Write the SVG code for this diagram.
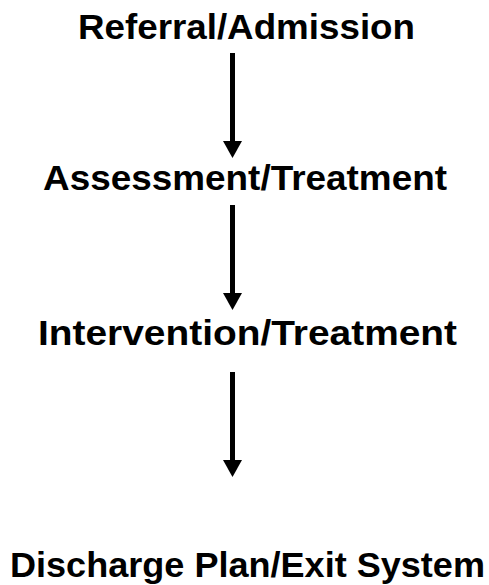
<svg xmlns="http://www.w3.org/2000/svg" width="489" height="585" viewBox="0 0 489 585">
<defs>
<style>
.lbl{font-family:"Liberation Sans",Arial,sans-serif;font-weight:bold;font-size:35px;fill:#000;text-anchor:middle}
.ln{stroke:#000;stroke-width:5;fill:none}
.hd{fill:#000}
</style>
</defs>
<rect width="489" height="585" fill="#fff"/>
<g id="n1"><text class="lbl" x="246.5" y="39" textLength="337" lengthAdjust="spacingAndGlyphs">Referral/Admission</text></g>
<g id="n2"><text class="lbl" x="245" y="190" textLength="404" lengthAdjust="spacingAndGlyphs">Assessment/Treatment</text></g>
<g id="n3"><text class="lbl" x="247.5" y="345" textLength="419" lengthAdjust="spacingAndGlyphs">Intervention/Treatment</text></g>
<g id="n4"><text class="lbl" x="247.5" y="577" textLength="475" lengthAdjust="spacingAndGlyphs">Discharge Plan/Exit System</text></g>
<g id="connectors">
<line class="ln" x1="232.5" y1="53" x2="232.5" y2="143"/>
<polygon class="hd" points="223,141 242,141 232.5,158"/>
<line class="ln" x1="232.5" y1="205" x2="232.5" y2="295"/>
<polygon class="hd" points="223,293 242,293 232.5,310"/>
<line class="ln" x1="232.5" y1="372" x2="232.5" y2="462"/>
<polygon class="hd" points="223,460 242,460 232.5,477"/>
</g>
</svg>
